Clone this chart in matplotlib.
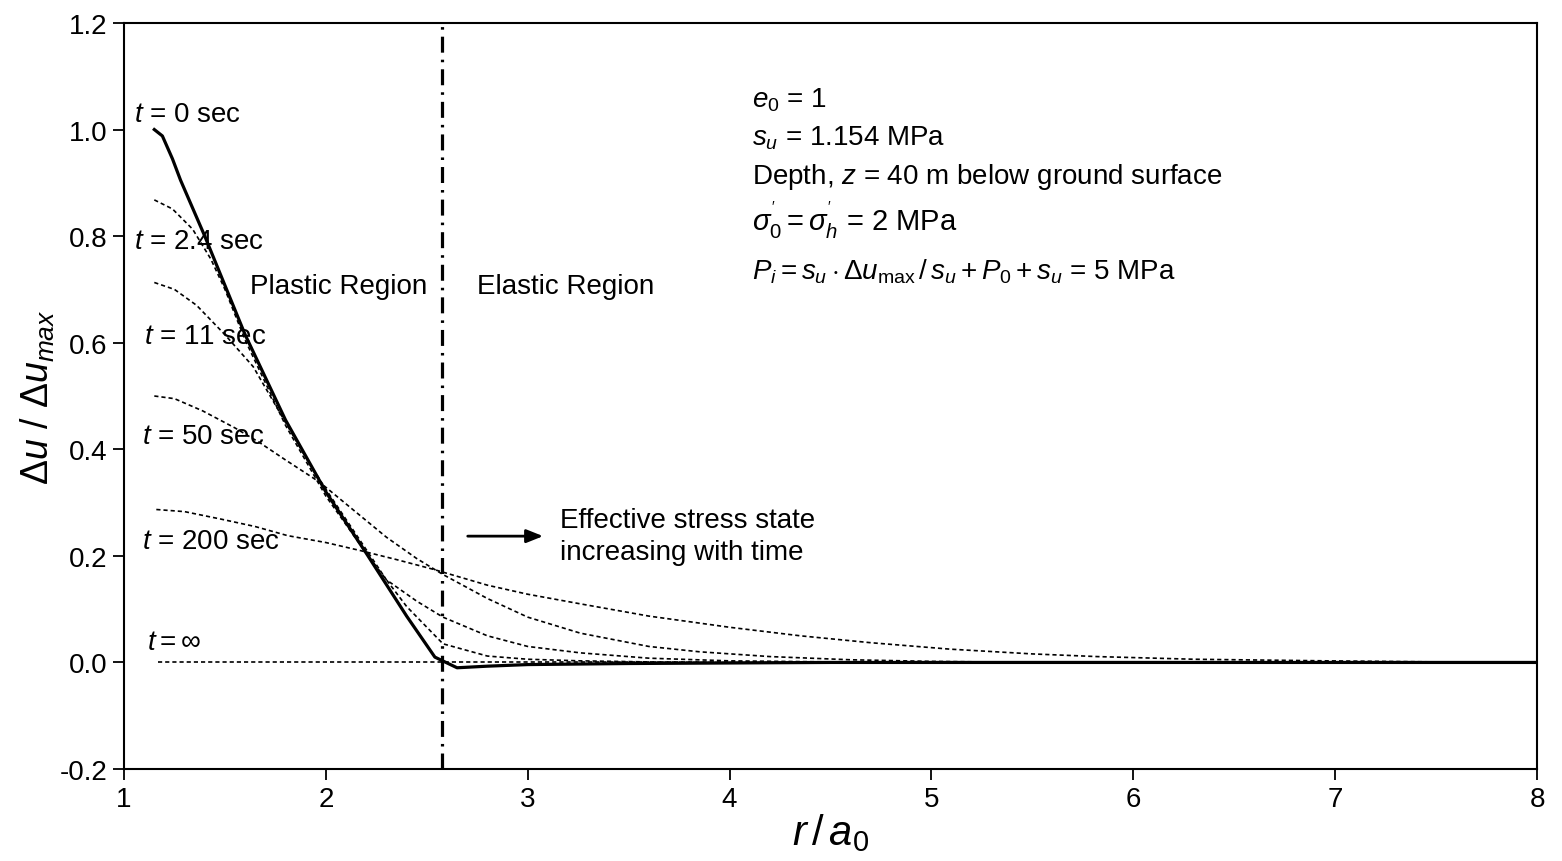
import matplotlib
matplotlib.use("Agg")
import matplotlib.pyplot as plt
from matplotlib import font_manager as fm

names = {f.name for f in fm.fontManager.ttflist}
FONT = "Liberation Sans Narrow" if "Liberation Sans Narrow" in names else "Liberation Sans"
plt.rcParams['font.family'] = [FONT, 'DejaVu Sans']
plt.rcParams['mathtext.fontset'] = 'custom'
plt.rcParams['mathtext.rm'] = FONT
plt.rcParams['mathtext.it'] = FONT + ':italic'
plt.rcParams['mathtext.bf'] = FONT + ':bold'
plt.rcParams['axes.unicode_minus'] = False

# ---- data ----
x_t0 = [1.15, 1.19, 1.24, 1.28, 1.40, 1.60, 1.80, 2.00, 2.20, 2.40, 2.54, 2.65, 2.80, 3.00, 3.50, 4.50, 8.00]
y_t0 = [1.000, 0.988, 0.945, 0.905, 0.800, 0.615, 0.455, 0.320, 0.205, 0.087, 0.010, -0.010, -0.007, -0.004, -0.002, 0.000, 0.000]

x_t2 = [1.15, 1.24, 1.34, 1.43, 1.50, 1.60, 1.80, 2.00, 2.20, 2.40, 2.58, 2.80, 3.00, 3.26, 3.60, 4.00, 8.00]
y_t2 = [0.868, 0.851, 0.813, 0.757, 0.700, 0.605, 0.445, 0.312, 0.205, 0.105, 0.035, 0.012, 0.006, 0.003, 0.001, 0.000, 0.000]

x_t11 = [1.15, 1.25, 1.36, 1.50, 1.64, 1.77, 1.90, 2.00, 2.15, 2.30, 2.45, 2.58, 2.80, 3.00, 3.26, 3.60, 4.00, 4.50, 8.00]
y_t11 = [0.713, 0.700, 0.670, 0.615, 0.555, 0.470, 0.385, 0.325, 0.240, 0.155, 0.115, 0.085, 0.050, 0.030, 0.018, 0.008, 0.003, 0.001, 0.000]

x_t50 = [1.15, 1.25, 1.39, 1.55, 1.67, 1.80, 1.97, 2.13, 2.30, 2.45, 2.58, 2.80, 3.00, 3.26, 3.60, 3.85, 4.20, 4.60, 5.00, 5.50, 8.00]
y_t50 = [0.500, 0.495, 0.472, 0.440, 0.413, 0.380, 0.338, 0.288, 0.235, 0.195, 0.165, 0.120, 0.085, 0.055, 0.030, 0.020, 0.011, 0.005, 0.002, 0.000, 0.000]

x_t200 = [1.16, 1.30, 1.48, 1.65, 1.81, 2.00, 2.17, 2.35, 2.53, 2.80, 3.00, 3.26, 3.60, 4.00, 4.35, 4.70, 5.09, 5.50, 5.82, 6.30, 6.96, 7.50, 8.00]
y_t200 = [0.287, 0.283, 0.269, 0.255, 0.238, 0.225, 0.210, 0.193, 0.175, 0.145, 0.128, 0.110, 0.087, 0.066, 0.050, 0.037, 0.025, 0.016, 0.011, 0.006, 0.003, 0.001, 0.000]

x_tinf = [1.17, 8.00]
y_tinf = [0.0, 0.0]

r_boundary = 2.575

x_ticks = [1, 2, 3, 4, 5, 6, 7, 8]
y_ticks = [-0.2, 0.0, 0.2, 0.4, 0.6, 0.8, 1.0, 1.2]

# ---- figure ----
fig = plt.figure(figsize=(15.62, 8.62), dpi=100)
ax = fig.add_axes([0.0794, 0.1067, 0.9046, 0.8655])

dot = (0, (2.5, 1.8))
for xs, ys in [(x_t2, y_t2), (x_t11, y_t11), (x_t50, y_t50), (x_t200, y_t200), (x_tinf, y_tinf)]:
    ax.plot(xs, ys, color='black', lw=1.2, linestyle=dot)
ax.plot(x_t0, y_t0, color='black', lw=2.3, solid_joinstyle='round')

ax.axvline(r_boundary, color='black', lw=2.3, linestyle=(0, (5, 2.2, 0.8, 2.2)))

ax.set_xlim(1, 8)
ax.set_ylim(-0.2, 1.2)
ax.set_xticks(x_ticks)
ax.set_xticklabels([str(v) for v in x_ticks])
ax.set_yticks(y_ticks)
ax.set_yticklabels([f"{v:.1f}" for v in y_ticks])
ax.tick_params(direction='out', length=8, width=1.3, labelsize=20, pad=4)
for s in ax.spines.values():
    s.set_linewidth(1.5)

ax.set_xlabel(r"$r\,/\,a_{0}$", fontsize=30, labelpad=0)
ax.set_ylabel(r"$\Delta u\ /\ \Delta u_{max}$", fontsize=27, labelpad=2)

fs = 20
ax.text(1.05, 1.029, r"$t$ = 0 sec", fontsize=fs, va='center', ha='left')
ax.text(1.05, 0.791, r"$t$ = 2.4 sec", fontsize=fs, va='center', ha='left')
ax.text(1.099, 0.613, r"$t$ = 11 sec", fontsize=fs, va='center', ha='left')
ax.text(1.089, 0.425, r"$t$ = 50 sec", fontsize=fs, va='center', ha='left')
ax.text(1.089, 0.228, r"$t$ = 200 sec", fontsize=fs, va='center', ha='left')
ax.text(1.114, 0.038, r"$t = \infty$", fontsize=fs, va='center', ha='left')

ax.text(1.624, 0.707, "Plastic Region", fontsize=fs, va='center', ha='left')
ax.text(2.749, 0.707, "Elastic Region", fontsize=fs, va='center', ha='left')

ax.annotate("", xy=(3.09, 0.237), xytext=(2.689, 0.237),
            arrowprops=dict(arrowstyle='-|>,head_length=1.0,head_width=0.4', color='black', lw=2))
ax.text(3.16, 0.237, "Effective stress state\nincreasing with time", fontsize=fs,
        va='center', ha='left', linespacing=1.3)

ax.text(4.111, 1.057, r"$e_{0}$ = 1", fontsize=fs, va='center', ha='left')
ax.text(4.111, 0.986, r"$s_{u}$ = 1.154 MPa", fontsize=fs, va='center', ha='left')
ax.text(4.111, 0.913, r"Depth, $z$ = 40 m below ground surface", fontsize=fs, va='center', ha='left')
ax.text(4.111, 0.832, r"$\sigma^{'}_{0} = \sigma^{'}_{h}$ = 2 MPa", fontsize=fs + 1, va='center', ha='left')
ax.text(4.111, 0.735, r"$P_{i} = s_{u} \cdot \Delta u_{\rm max}\,/\,s_{u} + P_{0} + s_{u}$ = 5 MPa",
        fontsize=fs, va='center', ha='left')

fig.savefig("out.png", dpi=100)
